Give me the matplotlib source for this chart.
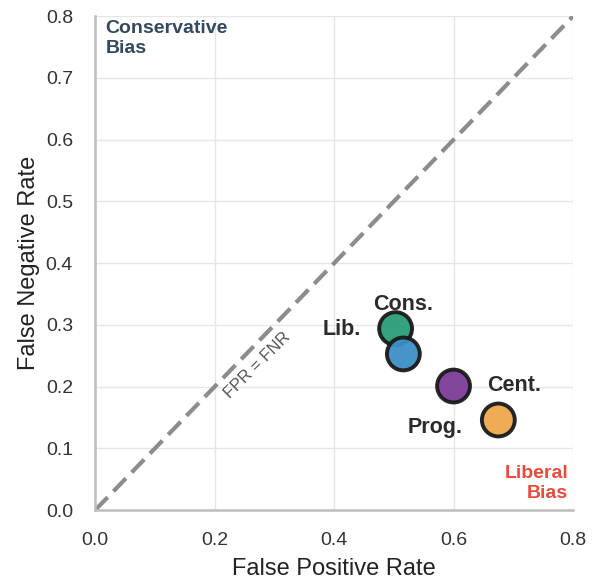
import matplotlib.pyplot as plt
import seaborn as sns

groups = ["Cons.", "Lib.", "Prog.", "Cent."]
fpr = [0.503, 0.516, 0.600, 0.675]
fnr = [0.294, 0.253, 0.201, 0.146]
colors = ["#2a9d78", "#3d8ec6", "#7d3c98", "#f0a84c"]
# label anchor positions (data coords), nudged like the original
label_x = [0.516, 0.413, 0.569, 0.701]
label_y = [0.333, 0.293, 0.134, 0.202]

sns.set_theme(style="whitegrid")
plt.rcParams["font.family"] = ["Liberation Sans", "DejaVu Sans"]

fig = plt.figure(figsize=(5.95, 5.81), dpi=100)
ax = fig.add_axes([0.16, 0.122, 0.803, 0.85])

ax.plot([0, 0.8], [0, 0.8], linestyle="--", color="#8c8c8c", linewidth=3.0,
        dashes=(4.3, 2), zorder=2)
ax.text(0.271, 0.235, "FPR = FNR", rotation=45, color="#555555", fontsize=12,
        ha="center", va="center")

ax.scatter(fpr, fnr, s=560, c=colors, edgecolors="#1a1a1a", linewidths=2.8,
           zorder=3, alpha=0.95)
for name, lx, ly in zip(groups, label_x, label_y):
    ax.text(lx, ly, name, fontsize=15.5, fontweight="bold", color="#2b2b2b",
            ha="center", va="center")

ax.text(0.017, 0.794, "Conservative\nBias", fontsize=14, fontweight="bold",
        color="#34495e", ha="left", va="top", linespacing=1.2)
ax.text(0.792, 0.013, "Liberal\nBias", fontsize=14, fontweight="bold",
        color="#e74c3c", ha="right", va="bottom", linespacing=1.2)

ax.set_xlim(0, 0.8)
ax.set_ylim(0, 0.8)
ax.set_xticks([0.0, 0.2, 0.4, 0.6, 0.8])
ax.set_yticks([0.0, 0.1, 0.2, 0.3, 0.4, 0.5, 0.6, 0.7, 0.8])
ax.tick_params(labelsize=14, colors="#333333", pad=10)
ax.set_xlabel("False Positive Rate", fontsize=17, color="#222222", labelpad=6)
ax.set_ylabel("False Negative Rate", fontsize=17, color="#222222", labelpad=4)
ax.grid(color="#e6e6e6", linewidth=1)
for side in ["top", "right"]:
    ax.spines[side].set_visible(False)
for side in ["left", "bottom"]:
    ax.spines[side].set_color("#bdbdbd")
    ax.spines[side].set_linewidth(1.8)

fig.savefig("out.png", dpi=100)
